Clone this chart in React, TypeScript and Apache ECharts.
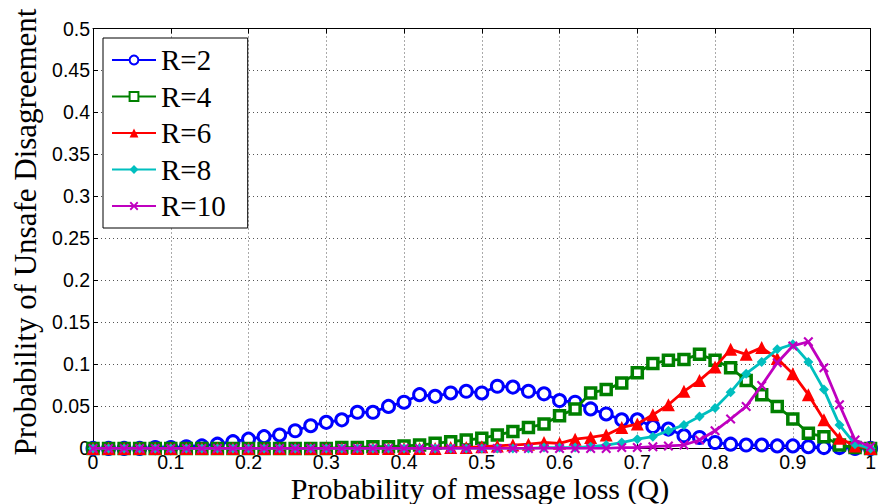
import React, { useEffect, useRef } from "react";
import * as echarts from "echarts";

const qValues = [
  0, 0.02, 0.04, 0.06, 0.08, 0.1, 0.12, 0.14, 0.16, 0.18, 0.2, 0.22, 0.24, 0.26, 0.28, 0.3, 0.32,
  0.34, 0.36, 0.38, 0.4, 0.42, 0.44, 0.46, 0.48, 0.5, 0.52, 0.54, 0.56, 0.58, 0.6, 0.62, 0.64,
  0.66, 0.68, 0.7, 0.72, 0.74, 0.76, 0.78, 0.8, 0.82, 0.84, 0.86, 0.88, 0.9, 0.92, 0.94, 0.96,
  0.98, 1.0,
];

const r2 = [
  0, 0, 0, 0, 0.001, 0.001, 0.002, 0.003, 0.005, 0.008, 0.011, 0.014, 0.016, 0.021, 0.027, 0.031,
  0.034, 0.043, 0.043, 0.05, 0.055, 0.064, 0.062, 0.066, 0.068, 0.066, 0.074, 0.073, 0.068, 0.065,
  0.057, 0.055, 0.047, 0.041, 0.034, 0.034, 0.026, 0.023, 0.015, 0.013, 0.007, 0.005, 0.004, 0.004,
  0.003, 0.003, 0.002, 0.001, 0.001, 0.0, 0,
];
const r4 = [
  0, 0, 0, 0, 0, 0, 0, 0, 0, 0, 0, 0, 0, 0, 0, 0, 0.001, 0.001, 0.002, 0.002, 0.003, 0.004, 0.006,
  0.008, 0.01, 0.012, 0.016, 0.02, 0.025, 0.029, 0.039, 0.047, 0.066, 0.07, 0.078, 0.09, 0.101,
  0.105, 0.106, 0.112, 0.105, 0.096, 0.081, 0.064, 0.05, 0.035, 0.018, 0.014, 0.004, 0.001, 0,
];
const r6 = [
  0, 0, 0, 0, 0, 0, 0, 0, 0, 0, 0, 0, 0, 0, 0, 0, 0, 0, 0, 0, 0, 0, 0, 0.001, 0.001, 0.002, 0.003,
  0.004, 0.005, 0.007, 0.006, 0.011, 0.013, 0.016, 0.025, 0.029, 0.04, 0.052, 0.068, 0.081, 0.097,
  0.118, 0.112, 0.12, 0.107, 0.089, 0.064, 0.034, 0.012, 0.003, 0,
];
const r8 = [
  0, 0, 0, 0, 0, 0, 0, 0, 0, 0, 0, 0, 0, 0, 0, 0, 0, 0, 0, 0, 0, 0, 0, 0, 0, 0, 0, 0, 0, 0.001,
  0.001, 0.001, 0.002, 0.004, 0.007, 0.011, 0.014, 0.021, 0.028, 0.038, 0.048, 0.067, 0.089, 0.103,
  0.118, 0.124, 0.103, 0.07, 0.028, 0.005, 0,
];
const r10 = [
  0, 0, 0, 0, 0, 0, 0, 0, 0, 0, 0, 0, 0, 0, 0, 0, 0, 0, 0, 0, 0, 0, 0, 0, 0, 0, 0, 0, 0, 0, 0, 0,
  0, 0, 0.001, 0.001, 0.002, 0.003, 0.004, 0.01, 0.021, 0.035, 0.05, 0.075, 0.102, 0.122, 0.127,
  0.096, 0.052, 0.01, 0.002,
];

const seriesNames = ["R=2", "R=4", "R=6", "R=8", "R=10"];
const xTitle = "Probability of message loss (Q)";
const yTitle = "Probability of Unsafe Disagreement";

const crossPath =
  "path://M1.5,0 L5,3.5 L8.5,0 L10,1.5 L6.5,5 L10,8.5 L8.5,10 L5,6.5 L1.5,10 L0,8.5 L3.5,5 L0,1.5 Z";

export default function App() {
  const ref = useRef<HTMLDivElement>(null);
  useEffect(() => {
    if (!ref.current) return;
    const chart = echarts.init(ref.current, null, { renderer: "svg" });
    const toPairs = (vals: number[]) => qValues.map((q, i) => [q, vals[i]]);
    const tickFont = { fontFamily: "Liberation Sans", fontSize: 19.5, color: "#000" };
    const gridLine = { show: true, lineStyle: { color: "#555", type: [1, 3] as any, width: 1 } };
    const colors = ["#0000ff", "#008000", "#ff0000", "#00bfbf", "#bf00bf"];
    const mk = (
      idx: number,
      vals: number[],
      symbol: string,
      size: number,
      filled: boolean,
      bw: number
    ) => ({
      name: seriesNames[idx],
      type: "line",
      data: toPairs(vals),
      symbol,
      symbolSize: size,
      showAllSymbol: true,
      lineStyle: { color: colors[idx], width: 2.8 },
      itemStyle: {
        color: filled ? colors[idx] : "#fff",
        borderColor: colors[idx],
        borderWidth: bw,
        opacity: 1,
      },
      emphasis: { disabled: true },
      z: 2 + idx,
    });
    chart.setOption({
      animation: false,
      backgroundColor: "#fff",
      grid: { left: 93, right: 8, top: 28.5, bottom: 55.6, containLabel: false },
      xAxis: [
        {
          type: "value",
          min: 0,
          max: 1,
          interval: 0.1,
          axisLine: { show: true, lineStyle: { color: "#000", width: 1 } },
          axisTick: { show: true, inside: true, length: 5, lineStyle: { color: "#000" } },
          axisLabel: { ...tickFont, margin: 4 },
          splitLine: gridLine,
        },
        {
          type: "value",
          position: "top",
          min: 0,
          max: 1,
          interval: 0.1,
          axisLine: { show: true, onZero: false, lineStyle: { color: "#000", width: 1 } },
          axisTick: { show: true, inside: true, length: 5, lineStyle: { color: "#000" } },
          axisLabel: { show: false },
          splitLine: { show: false },
        },
      ],
      yAxis: [
        {
          type: "value",
          min: 0,
          max: 0.5,
          interval: 0.05,
          axisLine: { show: true, lineStyle: { color: "#000", width: 1 } },
          axisTick: { show: true, inside: true, length: 5, lineStyle: { color: "#000" } },
          axisLabel: { ...tickFont, margin: 3 },
          splitLine: gridLine,
        },
        {
          type: "value",
          position: "right",
          min: 0,
          max: 0.5,
          interval: 0.05,
          axisLine: { show: true, onZero: false, lineStyle: { color: "#000", width: 1 } },
          axisTick: { show: true, inside: true, length: 5, lineStyle: { color: "#000" } },
          axisLabel: { show: false },
          splitLine: { show: false },
        },
      ],
      legend: {
        show: true,
        orient: "vertical",
        left: 103,
        top: 38,
        data: seriesNames,
        backgroundColor: "#fff",
        borderColor: "#000",
        borderWidth: 1,
        padding: [7.5, 22, 7.5, 8],
        itemGap: 7.5,
        itemWidth: 44,
        itemHeight: 11,
        textStyle: { fontFamily: "Liberation Serif", fontSize: 29, color: "#000" },
        selectedMode: false,
      },
      graphic: [
        {
          type: "text",
          x: 480,
          y: 488,
          style: {
            text: xTitle,
            x: 0,
            y: 0,
            align: "center",
            verticalAlign: "middle",
            fontFamily: "Liberation Serif",
            fontSize: 30,
            fill: "#000",
          },
        },
        {
          type: "text",
          x: 25,
          y: 232,
          rotation: Math.PI / 2,
          style: {
            text: yTitle,
            x: 0,
            y: 0,
            align: "center",
            verticalAlign: "middle",
            fontFamily: "Liberation Serif",
            fontSize: 31,
            fill: "#000",
          },
        },
      ],
      series: [
        mk(0, r2, "circle", 12, false, 3),
        mk(1, r4, "rect", 10, false, 3.5),
        mk(2, r6, "triangle", 13, true, 0),
        mk(3, r8, "diamond", 10, true, 0),
        mk(4, r10, crossPath, 10, true, 0),
      ],
    });
    return () => chart.dispose();
  }, []);
  return (
    <div
      ref={ref}
      style={{ position: "fixed", left: 0, top: 0, width: 879, height: 504 }}
    />
  );
}
